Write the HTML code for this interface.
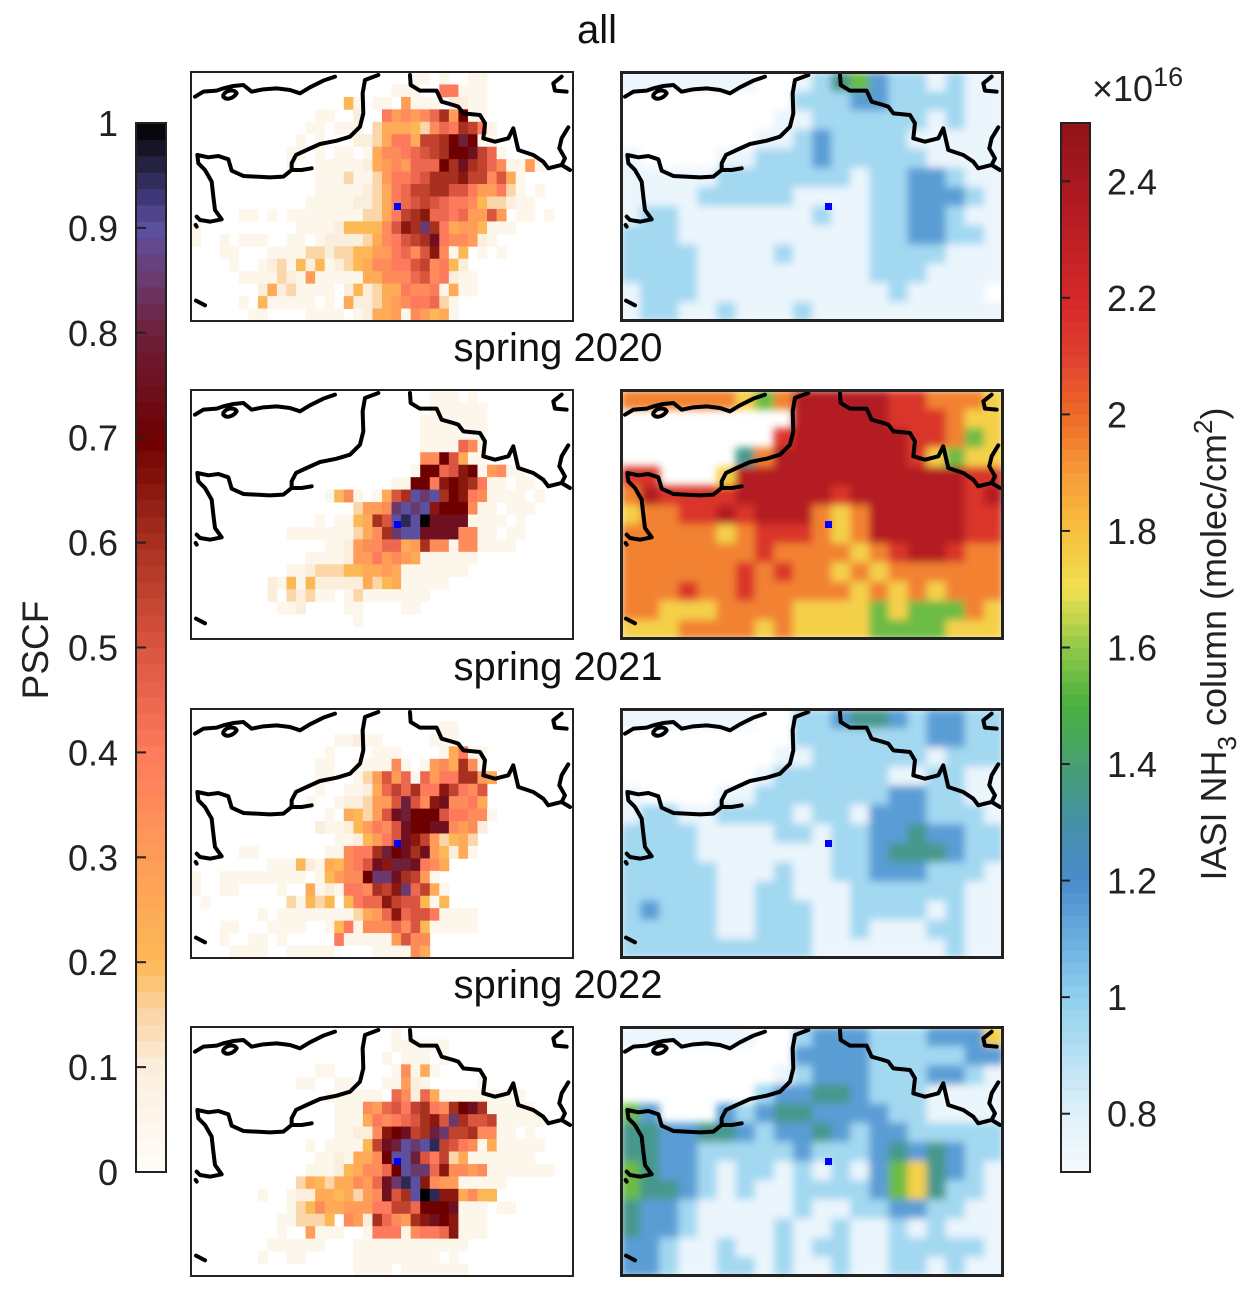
<!DOCTYPE html>
<html><head><meta charset="utf-8"><style>
html,body{margin:0;padding:0;background:#fff;}
svg{display:block;font-family:"Liberation Sans",Arial,sans-serif;}
</style></head><body>
<svg id="fig" width="1258" height="1291" viewBox="0 0 1258 1291" xmlns="http://www.w3.org/2000/svg">
<defs>
<filter id="soft" x="-5%" y="-5%" width="110%" height="110%"><feGaussianBlur stdDeviation="4"/></filter>
</defs>
<text x="597" y="43" font-size="40" text-anchor="middle" fill="#111">all</text>
<text x="558" y="361" font-size="40" text-anchor="middle" fill="#111">spring 2020</text>
<text x="558" y="680" font-size="40" text-anchor="middle" fill="#111">spring 2021</text>
<text x="558" y="998" font-size="40" text-anchor="middle" fill="#111">spring 2022</text>
<text transform="translate(48,650) rotate(-90)" font-size="37" text-anchor="middle" fill="#222">PSCF</text>
<text transform="translate(1226,644) rotate(-90)" font-size="36" text-anchor="middle" fill="#222">IASI NH<tspan font-size="26" dy="10">3</tspan><tspan dy="-10"> column (molec/cm</tspan><tspan font-size="26" dy="-14">2</tspan><tspan dy="14">)</tspan></text>
<text x="1092" y="101" font-size="36" fill="#222">×10<tspan font-size="27" dy="-15">16</tspan></text>
<g id="layer"></g>
</svg>
<script>
// ---------- data ----------
const pscfAll = [
[23,"11.1..11"],[21,"111..88111"],[16,"41.11.6111.2211"],[13,"11..2..867679C6E11"],
[12,"11.111.355543798CB81"],[11,"1.1...2235885BBCEGE11"],[10,"11.1.11.157789ABCEEFB91"],
[10,"1..1111125676999ECFCB971161"],[13,"11131136889ACCCDBB7A51"],[13,"1111123589BBCCAA866831.1"],
[12,"11111223589ABA9887433211"],[5,"11.1.111111113358BCD998966A6.11.1"],[0,"1..........1111244447ADCHC85664111"],
[0,"1..1.111..11.122223578ABCF877621"],[3,"11...1111332334466897AD714.1.1"],[4,"1..1231424123457788AB7842"],
[5,"1111321611111557779A78211"],[7,"25231111.24235587781511"],[5,"1.411111.1.522356788931"],[6,"11....1111.12556176451"]];
const pscf2020 = [
[25,"111.1"],[25,"111111"],[24,"1111111"],[24,"1111111"],[24,"1111971"],[24,"77EA511"],
[23,"1EE9ADE16711"],[21,"11EE8DEDC811.11"],[14,"1471.15ACIHICED871111.1"],[17,"3667HIHIDEEE711.111"],
[13,"1.1145CAIJIKFFFF1111.1"],[10,"1111111357CHIIFFFF7711.11"],[14,"1126779956C771771111"],
[12,"111126686765111111"],[10,"1123334455651111111"],[8,"2141422222534511111"],[8,"2.32311.131111111"],
[9,"112....11....11"],[17,"1"],[0,""]];
const pscf2021 = [
[0,""],[26,"11"],[15,"11211.....111"],[14,"1....111....15811"],[13,"11..111171.1675C71"],
[13,"11..136A6919688CC65"],[13,"1..11259B9C88DB87A"],[12,"1..122366AGA7DF7785"],[14,"1.5436AFGEEEA88771"],
[13,"21124687AFEEFF7672"],[15,"112468AFDB63453"],[5,"11.......11788CGEFCF64251"],[8,"1114215478AFDGGF875"],
[0,"1..111111111.14677EHHFCB61"],[0,"1..11....1..5121887CBDH9B51"],[1,"1........31434.4899DBAA414"],
[7,"1.111111113569D9AA81111"],[3,"11...1111..148177797A411111"],[3,"1..11.1.....8111116A77"],[4,"1111..11111....111175"]];
const pscf2022 = [
[21,"1"],[21,"111111"],[20,"1.111.1"],[13,"11......17151"],[11,"11..11...11621.....1"],
[14,"111111.97295111111111"],[15,"111769A8BC87CEFC11111"],[15,"11158789ACDAHCAAB11111"],
[15,"11227DEFBCGHBBC7711.1"],[12,"1.11114BFGIHIJBA871511111"],[13,"1121557EIIGA8B351111111"],
[12,"111245779EIHH9D77671111111"],[11,"354355769FHJID76611111"],[7,"1..1225545367FACIKJDD5744"],
[10,"13475566688BB9EEEF111.11"],[9,"113334.762C976CDFED111"],[9,"1..6111..188817889D111"],
[8,"111111...111111111111"],[7,"1..11.....111111111.1"],[17,"1111.1111111"]];
const nh3All = [
"1111111..12453221211",".........22233222211","........112222221211",".......1123222211111",
"1....112223222221111","11111222222212233211","11112222211112233321","12211111112112233211",
"22211111111112233221","22221111211112222111","22221111111112221111","1222111111111121111.",
"12211211121111111111"];
const nh32020 = [
"77777765799999887776","00000000099999888766","00000000899999988756","00000047999999986566",
"88.00699999999999988","79888899999899999989","67788989997679999988","77777678887679999988",
"77777778777767899877","77777787877676777777","77787787777767676777","77666777766665655576",
"66677776766665555666"];
const nh32021 = [
"1111111..22344323322",".........22222223322","........112222221222",".......1222222112211",
"1....112222222332211","12211222212213332221","22221111221223343322","22221111111223444322",
"22222111211223332221","22222112211122222211","23222112221122221211","22222112221121112211",
"22222222221111111211"];
const nh32022 = [
"1111111..23332223336",".........33332222233","........123332223321",".......2334432221111",
"53...323443333221111","44334432334323322222","44332222232223434322","54332122121213564321",
"54432121122223564221","43321111121122332211","43321111211211212111","33211211212211222221",
"33211221211211221211"];
const pscfTicks = [0,0.1,0.2,0.3,0.4,0.5,0.6,0.7,0.8,0.9,1];
const pscfTickLabels = ["0","0.1","0.2","0.3","0.4","0.5","0.6","0.7","0.8","0.9","1"];
const nh3Ticks = [0.8,1.0,1.2,1.4,1.6,1.8,2.0,2.2,2.4];
const nh3TickLabels = ["0.8","1","1.2","1.4","1.6","1.8","2","2.2","2.4"];

// ---------- helpers ----------
const NS="http://www.w3.org/2000/svg";
const layer=document.getElementById('layer');
function mk(tag,attrs,parent){const e=document.createElementNS(NS,tag);for(const k in attrs)e.setAttribute(k,attrs[k]);(parent||layer).appendChild(e);return e;}
function hex(h){return [parseInt(h.slice(1,3),16),parseInt(h.slice(3,5),16),parseInt(h.slice(5,7),16)];}
function cmap(stops,v){
  if(v<=stops[0][0])return 'rgb('+hex(stops[0][1])+')';
  for(let i=1;i<stops.length;i++){if(v<=stops[i][0]){const a=stops[i-1],b=stops[i];const t=(v-a[0])/(b[0]-a[0]);const ca=hex(a[1]),cb=hex(b[1]);return 'rgb('+ca.map((c,j)=>Math.round(c+(cb[j]-c)*t)).join(',')+')';}}
  return 'rgb('+hex(stops[stops.length-1][1])+')';
}
const pscfStops=[[0,'#fffdf8'],[0.1,'#fbeedd'],[0.15,'#fad6a8'],[0.2,'#fdb856'],[0.3,'#fe9c58'],[0.4,'#fe7a5c'],[0.5,'#d95540'],[0.6,'#a8301f'],[0.7,'#6e0000'],[0.75,'#6e1020'],[0.8,'#6e1f3a'],[0.85,'#6a3a6e'],[0.9,'#5c50a0'],[0.93,'#3e3878'],[0.97,'#1e1a30'],[1,'#000000']];
const nh3Stops=[[0.7,'#f6fafd'],[0.8,'#e0f0fa'],[1.0,'#8fd0ee'],[1.1,'#6aaedf'],[1.2,'#4a8ccc'],[1.3,'#4590a8'],[1.4,'#47a070'],[1.5,'#48b040'],[1.6,'#90c848'],[1.7,'#f0e050'],[1.8,'#f8c040'],[1.9,'#f69a38'],[2.0,'#ee6a28'],[2.1,'#e04030'],[2.2,'#d42828'],[2.4,'#a81820'],[2.5,'#901418']];
const CODES="0123456789ABCDEFGHIJK";
function pscfVal(ch){return CODES.indexOf(ch)/20;}
function nh3Val(ch){return ch==='.'?null:0.55+0.2*CODES.indexOf(ch);}

const rowsY=[72,390,709,1027], PH=249, PW=382, LX=191, RX=621;
const names=['all','2020','2021','2022'];
const pscfGrids=[pscfAll,pscf2020,pscf2021,pscf2022];
const nh3Grids=[nh3All,nh32020,nh32021,nh32022];

function coast(g,px,py){
  const cg=mk('g',{transform:`translate(${px-1},${py-2}) scale(0.3333)`,fill:'none',stroke:'#000','stroke-width':12,'stroke-linejoin':'round','stroke-linecap':'round'},g);
  
  
  const ds=["M15,80 L40,65 L80,62 L100,55 L130,48 L160,45 L185,65 L220,58 L260,55 L300,60 L330,70 L360,52 L400,32 L435,20",
  "M100,75 C110,58 135,58 140,70 C130,85 110,92 100,80",
  "M565,15 L525,30 L518,70 L520,130 L510,170 L480,200 L440,212 L390,222 L350,240 L318,255 L305,280 L305,300 L335,300 L365,295 M305,300 L280,320 L240,322 L160,318 L125,302 L115,268 L85,258 L55,262 L22,255 L25,280 L45,300 L65,335 L70,380 L75,420 L95,448 L60,455 L30,450 L20,440",
  "M660,15 L662,45 L690,62 L740,62 L755,95 L790,105 L805,110 L820,130 L870,135 L885,160 L880,205 L915,215 L955,205 L970,175 L978,210 L985,240 L1030,255 L1060,275 L1075,295 L1115,285 L1125,265 L1108,235 L1115,205 L1135,172 M1115,285 L1140,300",
  "M1115,20 L1090,40 L1095,62 L1130,65","M18,692 L45,706","M17,465 L20,470"];
  ds.forEach(d=>mk('path',{d:d},cg));
}

pscfGrids.forEach((grid,k)=>{
  const py=rowsY[k];
  const cp=mk('clipPath',{id:'cl'+k},document.querySelector('defs'));
  mk('rect',{x:LX,y:py,width:PW,height:PH},cp);
  const g=mk('g',{'clip-path':`url(#cl${k})`});
  
  
  const cw=PW/40, ch=PH/20;
  grid.forEach((row,r)=>{
    const off=row[0], s=row[1];
    for(let i=0;i<s.length;i++){
      if(s[i]==='.')continue;
      const c=off+i, v=pscfVal(s[i]);
      const rc=mk('rect',{x:(LX+c*cw).toFixed(2),y:(py+r*ch).toFixed(2),width:(cw+0.4).toFixed(2),height:(ch+0.4).toFixed(2),fill:cmap(pscfStops,v)},g);
      
      
    }
  });
  coast(g,LX,py);
  const mkr=mk('rect',{x:LX+203,y:py+131,width:7,height:7,fill:'#0000ff'},g);
  
  
  const fr=mk('rect',{x:LX,y:py,width:PW,height:PH,fill:'none',stroke:'#222','stroke-width':2});
  
  
});

nh3Grids.forEach((grid,k)=>{
  const py=rowsY[k];
  const cp=mk('clipPath',{id:'cr'+k},document.querySelector('defs'));
  mk('rect',{x:RX,y:py,width:PW,height:PH},cp);
  const g=mk('g',{'clip-path':`url(#cr${k})`});
  
  
  mk('rect',{x:RX,y:py,width:PW,height:PH,fill:'#fff'},g);
  const hg=mk('g',{filter:'url(#soft)'},g);
  const cw=PW/20, ch=PH/13;
  grid.forEach((s,r)=>{
    for(let c=0;c<s.length;c++){
      const v=nh3Val(s[c]);
      if(v===null||v<0.7)continue;
      const rc=mk('rect',{x:(RX+c*cw).toFixed(2),y:(py+r*ch).toFixed(2),width:(cw+0.5).toFixed(2),height:(ch+0.5).toFixed(2),fill:cmap(nh3Stops,v)},hg);
      
      
    }
  });
  coast(g,RX,py);
  const mkr=mk('rect',{x:RX+204,y:py+131,width:7,height:7,fill:'#0000ff'},g);
  
  
  const fr=mk('rect',{x:RX+0.5,y:py+0.5,width:PW-1,height:PH-1,fill:'none',stroke:'#222','stroke-width':3});
  
  
});

// ---------- colorbars ----------
const CB_TOP=123, CB_BOT=1172;
function yP(v){return CB_BOT-(v-0)/(1-0)*(CB_BOT-CB_TOP);}
function yN(v){return CB_BOT-(v-0.7)/(2.5-0.7)*(CB_BOT-CB_TOP);}
const lcb=mk('g',{});


for(let i=0;i<64;i++){const v0=i/64,v1=(i+1)/64;mk('rect',{x:136,y:yP(v1).toFixed(2),width:30,height:(yP(v0)-yP(v1)+0.5).toFixed(2),fill:cmap(pscfStops,(v0+v1)/2)},lcb);}
mk('rect',{x:136,y:CB_TOP,width:30,height:CB_BOT-CB_TOP,fill:'none',stroke:'#222','stroke-width':2},lcb);
pscfTicks.forEach((v,i)=>{
  mk('line',{x1:136,x2:146,y1:yP(v),y2:yP(v),stroke:'#222','stroke-width':2},lcb);
  const t=mk('text',{x:118,y:yP(v)+13,'font-size':36,'text-anchor':'end',fill:'#222'},lcb);
  t.textContent=pscfTickLabels[i];
  
  
});
const rcb=mk('g',{});


for(let i=0;i<90;i++){const v0=0.7+i*0.02,v1=v0+0.02;mk('rect',{x:1061,y:yN(v1).toFixed(2),width:29,height:(yN(v0)-yN(v1)+0.5).toFixed(2),fill:cmap(nh3Stops,(v0+v1)/2)},rcb);}
mk('rect',{x:1061,y:CB_TOP,width:29,height:CB_BOT-CB_TOP,fill:'none',stroke:'#222','stroke-width':2},rcb);
nh3Ticks.forEach((v,i)=>{
  mk('line',{x1:1061,x2:1070,y1:yN(v),y2:yN(v),stroke:'#222','stroke-width':2},rcb);
  const t=mk('text',{x:1107,y:yN(v)+13,'font-size':36,'text-anchor':'start',fill:'#222'},rcb);
  t.textContent=nh3TickLabels[i];
  
  
});
</script>
</body></html>
